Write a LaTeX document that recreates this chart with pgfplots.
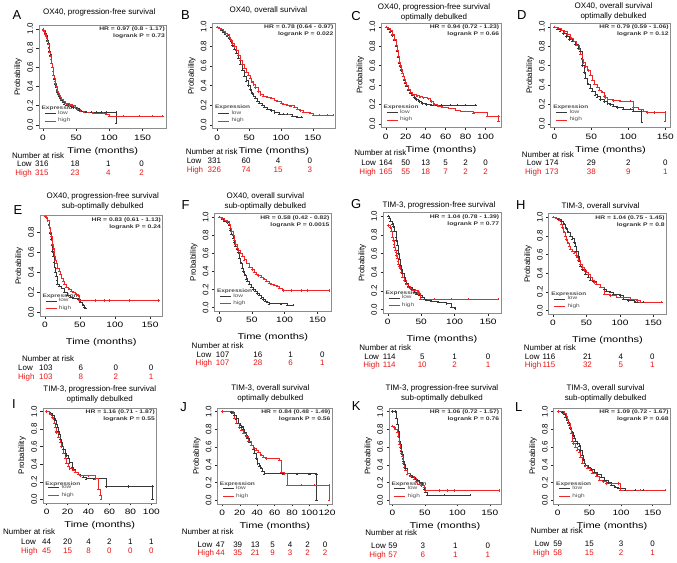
\documentclass[border=0pt]{standalone}
\usepackage{fontspec}
\setmainfont{Liberation Sans}
\newfontfamily\plotfont{Liberation Sans}[FakeStretch=1.3]
\usepackage{pgfplots}
\pgfplotsset{compat=1.18}
\definecolor{kmred}{RGB}{238,40,40}
\definecolor{kmtred}{RGB}{235,20,20}
\definecolor{kmgray}{RGB}{55,55,55}
\pgfplotsset{
 km/.style={scale only axis, clip=false, anchor=north west,
  axis line style={black!45, line width=0.5pt},
  tick align=outside, major tick length=2.5pt,
  tick style={black!85, line width=0.45pt},
  xtick pos=bottom, ytick pos=left,
  ytick={0,0.2,0.4,0.6,0.8,1}, ymin=-0.04, ymax=1.04,
  /pgf/number format/assume math mode=true,
  y tick label style={rotate=90, anchor=south, font=\fontsize{8}{9}\selectfont, /pgf/number format/.cd, fixed, fixed zerofill, precision=1, /tikz/.cd},
  x tick label style={font=\plotfont\fontsize{7.8}{9}\selectfont},
  xlabel={Time (months)}, ylabel={Probability},
  xlabel style={font=\plotfont\fontsize{8.5}{9}\selectfont},
  ylabel style={font=\fontsize{8}{9}\selectfont, yshift=-1.5pt},
  legend style={at={(0.04,0.025)}, anchor=south west, draw=none, fill=none, font=\plotfont\fontsize{5}{5.5}\selectfont, text=black!70, row sep=-1.5pt, inner sep=0.5pt},
  legend cell align=left,
  legend image code/.code={\draw[#1] (0pt,0pt)--(11pt,0pt);},
 },
 row2/.style={xlabel style={yshift=-4pt}},
 lowc/.style={const plot, color=kmgray, line width=0.45pt, mark=+, mark size=1.1pt, mark options={line width=0.3pt}},
 highc/.style={const plot, color=kmred, line width=0.45pt, mark=+, mark size=1.1pt, mark options={line width=0.3pt}},
}
\tikzset{
 ttl/.style={font=\fontsize{8}{10}\selectfont, align=center, inner sep=0pt},
 lt/.style={font=\fontsize{13}{13}\selectfont, inner sep=0pt},
 nar/.style={anchor=base west, font=\fontsize{8}{9}\selectfont, inner sep=0pt},
 lab/.style={font=\fontsize{8}{9}\selectfont, inner sep=0pt},
 rkn/.style={anchor=base, font=\fontsize{8}{9}\selectfont, inner sep=0pt},
 hr/.style={anchor=north east, align=right, font=\plotfont\bfseries\fontsize{5.2}{6.8}\selectfont, inner sep=1pt, text=black!80},
 expr/.style={anchor=west, font=\plotfont\bfseries\fontsize{5}{6}\selectfont, inner sep=0pt, text=black!70},
}
\newcommand{\rk}[4][0]{\node[rkn, xshift=#1pt, yshift=-#3pt] at ({axis cs:#2,0}|-{rel axis cs:0,0}) {#4};}
\newcommand{\rkh}[4][0]{\node[rkn, text=kmtred, xshift=#1pt, yshift=-#3pt] at ({axis cs:#2,0}|-{rel axis cs:0,0}) {#4};}
\begin{document}
\begin{tikzpicture}
\path (0pt,0pt) rectangle (677pt,-564pt);
% ---------------- A
\begin{axis}[km, at={(39pt,-25pt)}, width=128pt, height=104pt, xmin=-6, xmax=186, xtick={0,50,100,150}]
\addplot[lowc] coordinates {(0,1)(1,0.99)(2,0.98)(3,0.97)(4,0.95)(5,0.93)(6,0.91)(7,0.88)(8,0.85)(9,0.81)(10,0.77)(11,0.73)(12,0.68)(13,0.64)(14,0.6)(15,0.56)(16,0.52)(17,0.48)(18,0.45)(19,0.42)(20,0.39)(21,0.36)(22,0.34)(23,0.32)(24,0.3)(26,0.28)(28,0.26)(30,0.24)(32,0.22)(35,0.21)(38,0.2)(42,0.19)(46,0.18)(50,0.17)(54,0.15)(58,0.14)(65,0.135)(72,0.13)(80,0.13)(88,0.13)(95,0.13)(110,0.13)(110,0.02)};
\addplot[highc] coordinates {(0,1)(1,0.99)(2,0.98)(3,0.96)(4,0.94)(5,0.92)(6,0.9)(7,0.87)(8,0.84)(9,0.8)(10,0.76)(11,0.72)(12,0.68)(13,0.64)(14,0.6)(15,0.56)(16,0.52)(17,0.49)(18,0.46)(19,0.43)(20,0.4)(21,0.37)(22,0.35)(23,0.33)(24,0.31)(26,0.29)(28,0.27)(30,0.25)(33,0.23)(36,0.22)(40,0.21)(44,0.2)(48,0.18)(52,0.16)(56,0.14)(62,0.13)(75,0.125)(90,0.12)(95,0.11)(100,0.09)(120,0.09)(145,0.09)(165,0.09)(180,0.09)};
\legend{low,high}
\node[hr] at (rel axis cs:0.995,0.99) {HR = 0.97 (0.8 - 1.17)\\logrank P = 0.73};
\node[expr] at (rel axis cs:0.02,0.2) {Expression};
\rk[-1]{0}{38}{316}\rk[-1]{50}{38}{18}\rk[-1]{100}{38}{1}\rk[-1]{150}{38}{0}
\rkh[-1]{0}{47}{315}\rkh[-1]{50}{47}{23}\rkh[-1]{100}{47}{4}\rkh[-1]{150}{47}{2}
\end{axis}
% ---------------- B
\begin{axis}[km, at={(213pt,-23pt)}, width=123pt, height=106pt, xmin=-7.5, xmax=185, xtick={0,50,100,150}]
\addplot[lowc] coordinates {(0,1)(3,0.99)(6,0.97)(9,0.95)(12,0.93)(15,0.91)(18,0.88)(21,0.85)(24,0.81)(27,0.77)(30,0.73)(33,0.68)(36,0.62)(39,0.56)(42,0.5)(45,0.45)(48,0.4)(51,0.36)(54,0.32)(57,0.29)(60,0.27)(63,0.245)(66,0.225)(70,0.2)(74,0.18)(78,0.16)(84,0.145)(90,0.125)(97,0.11)(104,0.11)(110,0.11)(117,0.087)(125,0.077)(132,0.077)};
\addplot[highc] coordinates {(0,1)(3,0.99)(6,0.98)(9,0.96)(12,0.94)(15,0.92)(18,0.89)(21,0.86)(24,0.83)(27,0.8)(30,0.76)(33,0.71)(36,0.66)(39,0.62)(42,0.58)(45,0.54)(48,0.51)(51,0.48)(54,0.44)(57,0.41)(60,0.38)(64,0.34)(68,0.31)(72,0.29)(78,0.28)(84,0.27)(90,0.255)(94,0.245)(100,0.225)(104,0.21)(110,0.2)(115,0.195)(120,0.18)(125,0.16)(130,0.145)(135,0.13)(145,0.12)(151,0.1)(160,0.1)(172,0.1)(182,0.1)};
\legend{low,high}
\node[hr] at (rel axis cs:0.995,0.99) {HR = 0.78 (0.64 - 0.97)\\logrank P = 0.022};
\node[expr] at (rel axis cs:0.02,0.2) {Expression};
\rk[-3]{0}{35}{331}\rk[-3]{50}{35}{60}\rk[-3]{100}{35}{4}\rk[-3]{150}{35}{0}
\rkh[-3]{0}{44}{326}\rkh[-3]{50}{44}{74}\rkh[-3]{100}{44}{15}\rkh[-3]{150}{44}{3}
\end{axis}
% ---------------- C
\begin{axis}[km, at={(382pt,-23pt)}, width=120pt, height=105pt, xmin=-4.7, xmax=115.3, xtick={0,20,40,60,80,100}]
\addplot[lowc] coordinates {(0,1)(2,0.98)(4,0.95)(6,0.91)(8,0.86)(10,0.8)(11,0.75)(12,0.69)(13,0.63)(14,0.59)(15,0.55)(16,0.52)(17,0.49)(18,0.45)(19,0.42)(20,0.39)(22,0.35)(24,0.32)(26,0.3)(28,0.27)(30,0.25)(33,0.23)(36,0.21)(40,0.2)(45,0.19)(55,0.19)(65,0.19)(72,0.19)(80,0.19)(90,0.19)};
\addplot[highc] coordinates {(0,1)(2,0.985)(4,0.96)(6,0.92)(8,0.87)(10,0.81)(11,0.76)(12,0.7)(13,0.64)(14,0.6)(15,0.56)(16,0.52)(17,0.49)(18,0.46)(19,0.43)(20,0.4)(22,0.36)(24,0.33)(26,0.31)(28,0.3)(31,0.29)(34,0.28)(37,0.27)(42,0.26)(45,0.23)(48,0.2)(52,0.185)(56,0.175)(63,0.165)(70,0.145)(75,0.13)(88,0.115)(102,0.08)(113,0.08)(113,0.03)};
\legend{low,high}
\node[hr] at (rel axis cs:0.995,0.99) {HR = 0.94 (0.72 - 1.23)\\logrank P = 0.66};
\node[expr] at (rel axis cs:0.02,0.2) {Expression};
\rk{0}{38}{164}\rk{20}{38}{50}\rk{40}{38}{13}\rk{60}{38}{5}\rk{80}{38}{2}\rk{100}{38}{0}
\rkh{0}{47}{165}\rkh{20}{47}{55}\rkh{40}{47}{18}\rkh{60}{47}{7}\rkh{80}{47}{2}\rkh{100}{47}{2}
\end{axis}
% ---------------- D
\begin{axis}[km, at={(552pt,-23pt)}, width=120pt, height=105pt, xmin=-5, xmax=157, xtick={0,50,100,150}]
\addplot[lowc] coordinates {(0,1)(4,0.98)(8,0.96)(12,0.93)(16,0.9)(20,0.87)(24,0.85)(28,0.82)(32,0.78)(35,0.75)(37,0.68)(38,0.6)(40,0.53)(42,0.47)(45,0.41)(48,0.37)(51,0.34)(55,0.3)(58,0.28)(62,0.25)(67,0.23)(72,0.21)(76,0.2)(80,0.18)(85,0.167)(93,0.15)(102,0.15)(107,0.133)(118,0.133)(118,0.02)};
\addplot[highc] coordinates {(0,1)(5,0.99)(9,0.97)(13,0.95)(17,0.92)(22,0.88)(26,0.85)(30,0.81)(33,0.77)(35,0.72)(37,0.67)(39,0.63)(42,0.59)(45,0.55)(48,0.5)(51,0.45)(54,0.41)(58,0.38)(61,0.35)(64,0.33)(67,0.29)(69,0.27)(72,0.25)(80,0.24)(89,0.233)(102,0.233)(107,0.167)(114,0.15)(120,0.133)(125,0.117)(135,0.117)(150,0.117)(150,0.03)};
\legend{low,high}
\node[hr] at (rel axis cs:0.995,0.99) {HR = 0.79 (0.59 - 1.06)\\logrank P = 0.12};
\node[expr] at (rel axis cs:0.02,0.2) {Expression};
\rk[-2.5]{0}{38}{174}\rk{50}{38}{29}\rk{100}{38}{2}\rk{150}{38}{0}
\rkh[-2.5]{0}{47}{173}\rkh{50}{47}{38}\rkh{100}{47}{9}\rkh{150}{47}{1}
\end{axis}
% ---------------- E
\begin{axis}[km, row2, at={(40pt,-216pt)}, width=123pt, height=101pt, xmin=-7, xmax=168, ymax=0.97, ytick={0,0.2,0.4,0.6,0.8}, xtick={0,50,100,150}]
\addplot[lowc] coordinates {(0,0.96)(2,0.95)(4,0.92)(6,0.88)(7,0.84)(8,0.79)(9,0.73)(10,0.67)(11,0.61)(12,0.56)(13,0.5)(14,0.45)(15,0.4)(16,0.36)(17,0.32)(18,0.28)(20,0.26)(24,0.24)(28,0.2)(32,0.17)(36,0.15)(40,0.14)(47,0.133)(51,0.1)(54,0.07)(56,0.05)(58,0.04)};
\addplot[highc] coordinates {(0,0.96)(2,0.95)(4,0.92)(6,0.87)(7,0.84)(8,0.8)(9,0.76)(10,0.72)(11,0.68)(12,0.64)(13,0.6)(14,0.56)(15,0.52)(16,0.49)(18,0.44)(20,0.41)(22,0.38)(24,0.34)(26,0.31)(28,0.28)(31,0.25)(34,0.23)(37,0.21)(40,0.2)(44,0.18)(47,0.167)(49,0.117)(72,0.117)(85,0.117)(92,0.117)(120,0.117)(162,0.117)};
\legend{low,high}
\node[hr] at (rel axis cs:0.995,0.99) {HR = 0.83 (0.61 - 1.13)\\logrank P = 0.24};
\node[expr] at (rel axis cs:0.02,0.2) {Expression};
\rk[1]{0}{54}{103}\rk[1]{50}{54}{6}\rk[1]{100}{54}{0}\rk[1]{150}{54}{0}
\rkh[1]{0}{63}{103}\rkh[1]{50}{63}{8}\rkh[1]{100}{63}{2}\rkh[1]{150}{63}{1}
\end{axis}
% ---------------- F
\begin{axis}[km, row2, at={(215pt,-214pt)}, width=117pt, height=98pt, xmin=-7, xmax=171, xtick={0,50,100,150}]
\addplot[lowc] coordinates {(0,1)(4,0.98)(8,0.96)(12,0.94)(15,0.91)(17,0.86)(19,0.81)(21,0.77)(23,0.72)(25,0.68)(27,0.65)(29,0.61)(31,0.55)(33,0.49)(35,0.44)(37,0.4)(39,0.36)(41,0.32)(43,0.29)(46,0.26)(49,0.23)(52,0.2)(55,0.18)(58,0.155)(61,0.136)(64,0.11)(67,0.09)(70,0.075)(73,0.06)(76,0.044)(95,0.044)(104,0.026)(113,0.026)};
\addplot[highc] coordinates {(0,1)(4,0.985)(8,0.97)(12,0.95)(15,0.926)(17,0.88)(19,0.84)(21,0.8)(23,0.75)(25,0.7)(27,0.66)(29,0.63)(32,0.6)(35,0.57)(38,0.53)(42,0.49)(46,0.45)(50,0.42)(53,0.395)(57,0.37)(60,0.355)(64,0.338)(68,0.315)(72,0.295)(76,0.275)(80,0.26)(84,0.246)(88,0.235)(92,0.22)(97,0.19)(110,0.19)(125,0.19)(135,0.19)(168,0.19)};
\legend{low,high}
\node[hr] at (rel axis cs:0.995,0.99) {HR = 0.58 (0.42 - 0.82)\\logrank P = 0.0015};
\node[expr] at (rel axis cs:0.02,0.2) {Expression};
\rk[3.5]{0}{46}{107}\rk[6]{50}{46}{16}\rk[6]{100}{46}{1}\rk[5]{150}{46}{0}
\rkh[3.5]{0}{54}{107}\rkh[6]{50}{54}{28}\rkh[6]{100}{54}{6}\rkh[5]{150}{54}{1}
\end{axis}
% ---------------- G
\begin{axis}[km, row2, at={(384pt,-213pt)}, width=118pt, height=101pt, xmin=-7, xmax=169, xtick={0,50,100,150}]
\addplot[lowc] coordinates {(0,1)(2,0.98)(4,0.95)(6,0.92)(8,0.89)(10,0.84)(12,0.78)(13,0.74)(14,0.69)(15,0.64)(16,0.6)(17,0.54)(18,0.48)(20,0.43)(22,0.39)(24,0.35)(26,0.31)(28,0.28)(31,0.25)(34,0.235)(37,0.22)(40,0.19)(43,0.17)(47,0.155)(51,0.135)(55,0.115)(58,0.1)(65,0.09)(75,0.08)(88,0.064)(95,0.028)(101,0.01)};
\addplot[highc] coordinates {(0,0.9)(3,0.88)(5,0.84)(7,0.78)(8,0.74)(9,0.7)(10,0.67)(11,0.64)(12,0.61)(13,0.58)(14,0.55)(15,0.52)(16,0.49)(17,0.46)(18,0.44)(20,0.4)(22,0.35)(24,0.31)(27,0.27)(30,0.245)(33,0.225)(37,0.21)(41,0.206)(45,0.2)(46,0.171)(48,0.11)(70,0.11)(95,0.11)(120,0.11)(165,0.11)};
\legend{low,high}
\node[hr] at (rel axis cs:0.995,0.99) {HR = 1.04 (0.78 - 1.39)\\logrank P = 0.77};
\node[expr] at (rel axis cs:0.02,0.2) {Expression};
\rk[1.5]{0}{46}{114}\rk[1]{50}{46}{5}\rk{100}{46}{1}\rk{150}{46}{0}
\rkh[1.5]{0}{54}{114}\rkh[1]{50}{54}{10}\rkh{100}{54}{2}\rkh{150}{54}{1}
\end{axis}
% ---------------- H
\begin{axis}[km, row2, at={(550pt,-214pt)}, width=118pt, height=101pt, xmin=-6.4, xmax=169.4, xtick={0,50,100,150}]
\addplot[lowc] coordinates {(0,1)(4,0.99)(8,0.98)(12,0.96)(16,0.93)(19,0.88)(22,0.84)(25,0.8)(28,0.77)(31,0.73)(33,0.69)(35,0.64)(37,0.58)(39,0.53)(41,0.48)(44,0.44)(48,0.39)(52,0.36)(56,0.33)(60,0.31)(65,0.28)(71,0.25)(76,0.23)(80,0.21)(85,0.195)(90,0.18)(100,0.16)(105,0.125)(112,0.107)(122,0.09)(135,0.09)};
\addplot[highc] coordinates {(0,1)(5,0.99)(9,0.97)(12,0.93)(14,0.89)(16,0.84)(18,0.8)(20,0.76)(22,0.72)(24,0.69)(26,0.66)(28,0.64)(31,0.62)(34,0.59)(36,0.57)(38,0.54)(40,0.5)(43,0.46)(46,0.43)(49,0.41)(52,0.39)(55,0.36)(58,0.33)(61,0.3)(65,0.28)(71,0.25)(76,0.18)(85,0.16)(95,0.143)(115,0.125)(125,0.107)(130,0.09)(162,0.09)};
\legend{low,high}
\node[hr] at (rel axis cs:0.995,0.99) {HR = 1.04 (0.75 - 1.45)\\logrank P = 0.8};
\node[expr] at (rel axis cs:0.02,0.2) {Expression};
\rk[-4]{0}{45}{116}\rk[1]{50}{45}{21}\rk[1]{100}{45}{4}\rk[-1]{150}{45}{0}
\rkh[-4]{0}{53}{115}\rkh[1]{50}{53}{32}\rkh[1]{100}{53}{5}\rkh[-1]{150}{53}{1}
\end{axis}
% ---------------- I
\begin{axis}[km, at={(43pt,-409pt)}, width=114pt, height=95pt, xmin=-3.5, xmax=105, xtick={0,20,40,60,80,100}]
\addplot[lowc] coordinates {(0,1)(3,0.98)(5,0.96)(7,0.92)(8,0.9)(9,0.86)(10,0.82)(11,0.78)(12,0.74)(13,0.69)(14,0.65)(15,0.61)(16,0.57)(17.5,0.53)(19,0.5)(20.6,0.47)(22,0.42)(24,0.37)(25.5,0.34)(27,0.31)(30,0.29)(32,0.275)(35,0.255)(38,0.235)(45,0.235)(57,0.145)(78,0.145)(101,0.145)(101,0)};
\addplot[highc] coordinates {(0,1)(3,0.97)(5,0.94)(6,0.92)(7,0.87)(8,0.82)(9,0.78)(9.5,0.76)(11,0.71)(12.7,0.65)(14,0.6)(16,0.53)(17.5,0.47)(19,0.41)(20.5,0.38)(22,0.35)(25,0.33)(27,0.31)(30,0.29)(32,0.27)(40,0.27)(46,0.235)(49,0.118)(51,0.05)(52,0)};
\legend{low,high}
\node[hr] at (rel axis cs:0.995,0.99) {HR = 1.16 (0.71 - 1.87)\\logrank P = 0.55};
\node[expr] at (rel axis cs:0.02,0.2) {Expression};
\rk{0}{42}{44}\rk{20}{42}{20}\rk{40}{42}{4}\rk{60}{42}{2}\rk{80}{42}{1}\rk{100}{42}{1}
\rkh{0}{51}{45}\rkh{20}{51}{15}\rkh{40}{51}{8}\rkh{60}{51}{0}\rkh{80}{51}{0}\rkh{100}{51}{0}
\end{axis}
% ---------------- J
\begin{axis}[km, at={(218pt,-409pt)}, width=115pt, height=96pt, xmin=-5.5, xmax=126, xtick={0,20,40,60,80,100,120}]
\addplot[lowc] coordinates {(0,1)(10,0.99)(14,0.96)(16,0.92)(18,0.87)(20,0.85)(22,0.83)(24,0.8)(25,0.77)(27,0.73)(29,0.7)(31,0.66)(33,0.62)(35,0.58)(37,0.53)(39,0.47)(40.5,0.415)(42,0.39)(44,0.36)(46,0.33)(48,0.3)(70,0.3)(86,0.3)(100,0.3)(108,0.3)(108,0)};
\addplot[highc] coordinates {(0,1)(12,0.98)(14,0.93)(16,0.87)(19,0.82)(21.6,0.79)(24,0.76)(27,0.72)(30,0.67)(33,0.62)(36,0.59)(38.6,0.566)(41,0.54)(44,0.51)(47,0.49)(50,0.47)(65,0.45)(67,0.32)(71,0.3)(74.5,0.17)(90,0.17)(105,0.17)(122,0.17)(122,0)};
\legend{low,high}
\node[hr] at (rel axis cs:0.995,0.99) {HR = 0.84 (0.48 - 1.49)\\logrank P = 0.56};
\node[expr] at (rel axis cs:0.02,0.2) {Expression};
\rk[-2]{0}{44}{47}\rk[-2]{20}{44}{39}\rk[-2]{40}{44}{13}\rk[-2]{60}{44}{5}\rk[-2]{80}{44}{4}\rk[-2]{100}{44}{2}\rk[-2]{120}{44}{0}
\rkh[-2]{0}{52}{44}\rkh[-2]{20}{52}{35}\rkh[-2]{40}{52}{21}\rkh[-2]{60}{52}{9}\rkh[-2]{80}{52}{3}\rkh[-2]{100}{52}{2}\rkh[-2]{120}{52}{2}
\end{axis}
% ---------------- K
\begin{axis}[km, at={(390pt,-409pt)}, width=112pt, height=96pt, xmin=-5, xmax=167, xtick={0,50,100,150}]
\addplot[lowc] coordinates {(0,1)(5,1)(6,0.93)(7.7,0.86)(9,0.78)(10,0.71)(11,0.67)(12,0.63)(13,0.59)(14,0.55)(15,0.52)(16,0.48)(17,0.44)(18,0.41)(20,0.36)(23,0.3)(27,0.28)(31,0.26)(35,0.24)(38,0.225)(42,0.2)(46,0.17)(49,0.13)(51,0.094)(54,0.056)(80,0.056)(120,0.056)};
\addplot[highc] coordinates {(0,0.84)(2.5,0.82)(5,0.8)(7.7,0.77)(9,0.72)(10,0.67)(11,0.63)(12,0.6)(13,0.57)(14,0.53)(15,0.5)(16,0.46)(17,0.42)(18,0.375)(20,0.34)(23,0.3)(27,0.27)(33,0.243)(37,0.21)(41,0.187)(45,0.165)(48.6,0.15)(51,0.11)(72,0.11)(85,0.11)(95,0.11)(164,0.11)};
\legend{low,high}
\node[hr] at (rel axis cs:0.995,0.99) {HR = 1.06 (0.72 - 1.57)\\logrank P = 0.76};
\node[expr] at (rel axis cs:0.02,0.2) {Expression};
\rk[0.5]{0}{45}{59}\rk[-2]{50}{45}{3}\rk[-2]{100}{45}{1}\rk[-2]{150}{45}{0}
\rkh[0.5]{0}{54}{57}\rkh[-2]{50}{54}{6}\rkh[-2]{100}{54}{1}\rkh[-2]{150}{54}{1}
\end{axis}
% ---------------- L
\begin{axis}[km, at={(555pt,-409pt)}, width=117pt, height=96pt, xmin=-6.4, xmax=178, xtick={0,50,100,150}]
\addplot[lowc] coordinates {(0,1)(7,0.99)(10,0.97)(12,0.94)(14,0.91)(16,0.88)(18,0.85)(20,0.81)(22,0.77)(24,0.73)(26,0.7)(28,0.67)(31,0.64)(34,0.615)(36,0.56)(38,0.51)(40,0.46)(42,0.42)(44,0.4)(48,0.37)(52,0.346)(57,0.32)(63,0.29)(68,0.26)(74,0.23)(79,0.2)(84,0.17)(90,0.15)(95,0.135)(106,0.115)(122,0.115)(135,0.115)};
\addplot[highc] coordinates {(0,1)(10,0.98)(13,0.95)(15,0.91)(17,0.87)(19,0.82)(21,0.76)(23,0.67)(25,0.64)(28,0.6)(31,0.57)(34,0.54)(36,0.49)(39,0.42)(43,0.39)(47,0.365)(51,0.34)(55,0.31)(60,0.27)(66,0.23)(71,0.21)(76,0.19)(95,0.19)(98,0.115)(130,0.115)(170,0.115)};
\legend{low,high}
\node[hr] at (rel axis cs:0.995,0.99) {HR = 1.09 (0.72 - 1.67)\\logrank P = 0.68};
\node[expr] at (rel axis cs:0.02,0.2) {Expression};
\rk{0}{43}{59}\rk{50}{43}{15}\rk{100}{43}{3}\rk{150}{43}{0}
\rkh{0}{52}{58}\rkh{50}{52}{15}\rkh{100}{52}{2}\rkh{150}{52}{1}
\end{axis}
% ---------------- titles and letters
\node[lt] at (17pt,-15pt) {A};
\node[lt] at (186pt,-15pt) {B};
\node[lt] at (357pt,-16pt) {C};
\node[lt] at (523pt,-15pt) {D};
\node[lt] at (18pt,-211pt) {E};
\node[lt] at (186pt,-206pt) {F};
\node[lt] at (357pt,-205pt) {G};
\node[lt] at (522pt,-206pt) {H};
\node[lt] at (14pt,-405pt) {I};
\node[lt] at (184pt,-408pt) {J};
\node[lt] at (357pt,-407pt) {K};
\node[lt] at (520pt,-408pt) {L};
\node[ttl] at (99.5pt,-12pt) {OX40, progression-free survival};
\node[ttl] at (269pt,-10pt) {OX40, overall survival};
\node[ttl] at (435pt,-12pt) {OX40, progression-free survival\\optimally debulked};
\node[ttl] at (615pt,-11.5pt) {OX40, overall survival\\optimally debulked};
\node[ttl] at (103pt,-202pt) {OX40, progression-free survival\\sub-optimally debulked};
\node[ttl] at (266pt,-202pt) {OX40, overall survival\\sub-optimally debulked};
\node[ttl] at (440pt,-206pt) {TIM-3, progression-free survival};
\node[ttl] at (602pt,-207pt) {TIM-3, overall survival};
\node[ttl] at (100pt,-395.5pt) {TIM-3, progression-free survival\\optimally debulked};
\node[ttl] at (271pt,-394.5pt) {TIM-3, overall survival\\optimally debulked};
\node[ttl] at (443pt,-394.5pt) {TIM-3, progression-free survival\\sub-optimally debulked};
\node[ttl] at (607pt,-394.5pt) {TIM-3, overall survival\\sub-optimally debulked};
% ---------------- number at risk labels
\node[nar] at (12pt,-159pt) {Number at risk};
\node[lab, anchor=base east] at (32pt,-167pt) {Low};
\node[lab, anchor=base east, text=kmtred] at (32pt,-176pt) {High};
\node[nar] at (186pt,-155pt) {Number at risk};
\node[lab, anchor=base west] at (187pt,-164pt) {Low};
\node[lab, anchor=base west, text=kmtred] at (187pt,-173pt) {High};
\node[nar] at (355pt,-156pt) {Number at risk};
\node[lab, anchor=base east] at (377pt,-166pt) {Low};
\node[lab, anchor=base east, text=kmtred] at (377pt,-175pt) {High};
\node[nar] at (523pt,-158pt) {Number at risk};
\node[lab, anchor=base east] at (543pt,-166pt) {Low};
\node[lab, anchor=base east, text=kmtred] at (543pt,-175pt) {High};
\node[nar] at (22pt,-362pt) {Number at risk};
\node[lab, anchor=base west] at (18pt,-371pt) {Low};
\node[lab, anchor=base west, text=kmtred] at (18pt,-380pt) {High};
\node[nar] at (192pt,-349pt) {Number at risk};
\node[lab, anchor=base west] at (197pt,-358pt) {Low};
\node[lab, anchor=base west, text=kmtred] at (196pt,-366pt) {High};
\node[nar] at (360pt,-351pt) {Number at risk};
\node[lab, anchor=base west] at (365pt,-360pt) {Low};
\node[lab, anchor=base west, text=kmtred] at (364pt,-368pt) {High};
\node[nar] at (525pt,-351pt) {Number at risk};
\node[lab, anchor=base west] at (526pt,-360pt) {Low};
\node[lab, anchor=base west, text=kmtred] at (526pt,-368pt) {High};
\node[nar] at (3pt,-536pt) {Number at risk};
\node[lab, anchor=base west] at (21pt,-546pt) {Low};
\node[lab, anchor=base west, text=kmtred] at (21pt,-555pt) {High};
\node[nar] at (182pt,-536pt) {Number at risk};
\node[lab, anchor=base west] at (198pt,-549pt) {Low};
\node[lab, anchor=base west, text=kmtred] at (198pt,-557pt) {High};
\node[nar] at (366pt,-537pt) {Number at risk};
\node[lab, anchor=base east] at (387pt,-550pt) {Low};
\node[lab, anchor=base east, text=kmtred] at (387pt,-559pt) {High};
\node[nar] at (532pt,-535pt) {Number at risk};
\node[lab, anchor=base east] at (551pt,-548pt) {Low};
\node[lab, anchor=base east, text=kmtred] at (551pt,-557pt) {High};
\end{tikzpicture}
\end{document}
